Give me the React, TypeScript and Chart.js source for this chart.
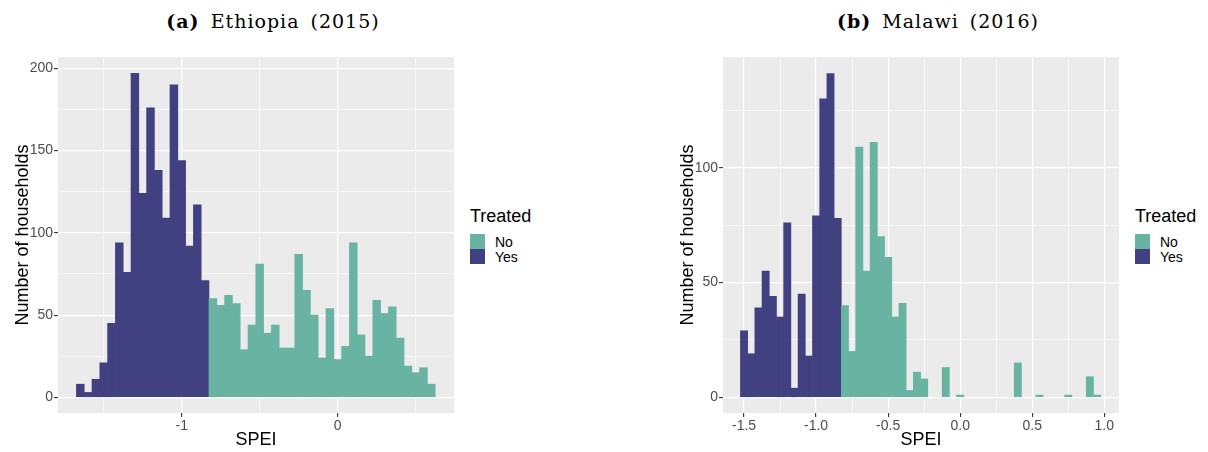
import React, { useEffect, useRef } from "react";
import Chart from "chart.js/auto";

// Histogram bins are 0.05 SPEI wide; treated (Yes) bins come first, then untreated (No)
const BIN_WIDTH = 0.05;

// (a) Ethiopia (2015)
const ETH_BIN_START = -1.675;
const ETH_YES = [8, 3, 11, 21, 45, 94, 76, 197, 124, 176, 138, 109, 190, 144, 92, 117, 71];
const ETH_NO = [
  60, 56, 62, 57, 29, 44, 81, 39, 44, 30, 30, 87, 65, 50, 24, 54, 23, 31, 94, 38,
  25, 59, 51, 55, 36, 19, 15, 18, 8,
];
const ETH_X_TICKS = [-1.5, -1, -0.5, 0, 0.5];
const ETH_X_LABELS = ["", "-1", "", "0", ""];
const ETH_Y_TICKS = [0, 25, 50, 75, 100, 125, 150, 175, 200];
const ETH_Y_LABELS = ["0", "", "50", "", "100", "", "150", "", "200"];

// (b) Malawi (2016)
const MWI_BIN_START = -1.525;
const MWI_YES = [29, 19, 39, 55, 44, 35, 76, 4, 45, 18, 79, 130, 141, 78];
const MWI_NO = [
  40, 20, 109, 55, 111, 70, 61, 35, 41, 3, 11, 8, 0, 0, 13, 0, 1, 0, 0, 0,
  0, 0, 0, 0, 15, 0, 0, 1, 0, 0, 0, 1, 0, 0, 9, 1,
];
const MWI_X_TICKS = [-1.5, -1.25, -1, -0.75, -0.5, -0.25, 0, 0.25, 0.5, 0.75, 1];
const MWI_X_LABELS = ["-1.5", "", "-1.0", "", "-0.5", "", "0.0", "", "0.5", "", "1.0"];
const MWI_Y_TICKS = [0, 25, 50, 75, 100, 125];
const MWI_Y_LABELS = ["0", "", "50", "", "100", ""];

const YES_COLOR = "#414080";
const NO_COLOR = "#69b3a2";
const PANEL_BG = "#EBEBEB";
const SANS = "'Liberation Sans', Arial, sans-serif";

const panelBackground = {
  id: "panelBackground",
  beforeDraw(chart: Chart) {
    const { ctx, chartArea } = chart;
    ctx.save();
    ctx.fillStyle = PANEL_BG;
    ctx.fillRect(chartArea.left, chartArea.top, chartArea.right - chartArea.left, chartArea.bottom - chartArea.top);
    ctx.restore();
  },
};

type HistProps = {
  binStart: number;
  yes: number[];
  no: number[];
  xRange: [number, number];
  yRange: [number, number];
  xTicks: number[];
  xLabels: string[];
  yTicks: number[];
  yLabels: string[];
  left: number;
};

const Histogram: React.FC<HistProps> = ({
  binStart, yes, no, xRange, yRange, xTicks, xLabels, yTicks, yLabels, left,
}) => {
  const canvasRef = useRef<HTMLCanvasElement | null>(null);

  useEffect(() => {
    if (!canvasRef.current) return;

    const center = (i: number) => binStart + (i + 0.5) * BIN_WIDTH;
    const yesData = yes.map((y, i) => ({ x: center(i), y }));
    const noData = no.map((y, i) => ({ x: center(yes.length + i), y }));

    const isMajor = (labels: string[], idx: number) => labels[idx] !== "";

    const chart = new Chart(canvasRef.current, {
      type: "bar",
      data: {
        datasets: [
          { label: "No", data: noData, backgroundColor: NO_COLOR },
          { label: "Yes", data: yesData, backgroundColor: YES_COLOR },
        ].map((d) => ({
          ...d,
          grouped: false,
          barPercentage: 1,
          categoryPercentage: 1,
          borderWidth: 0,
          inflateAmount: (ctx: any) => (ctx.raw && ctx.raw.y === 0 ? 0 : 0.33),
        })),
      },
      options: {
        animation: false,
        responsive: false,
        devicePixelRatio: 1,
        layout: { padding: { top: 57, right: 6, left: 0, bottom: 0 } },
        plugins: { legend: { display: false }, tooltip: { enabled: false } },
        scales: {
          x: {
            type: "linear",
            min: xRange[0],
            max: xRange[1],
            offset: false,
            afterFit: (s: any) => { s.height = 39; },
            afterBuildTicks: (s: any) => { s.ticks = xTicks.map((v) => ({ value: v })); },
            grid: {
              offset: false,
              color: "#FFFFFF",
              lineWidth: (c: any) => (isMajor(xLabels, c.index) ? 1.2 : 0.6),
              tickColor: (c: any) => (isMajor(xLabels, c.index) ? "#333333" : "rgba(0,0,0,0)"),
              tickLength: 4,
              tickWidth: 1.1,
            },
            border: { display: false },
            ticks: {
              autoSkip: false,
              maxRotation: 0,
              padding: 1,
              color: "#4D4D4D",
              font: { family: SANS, size: 14 },
              callback: (_v: any, i: number) => xLabels[i],
            },
            title: {
              display: true,
              text: "SPEI",
              color: "#000000",
              font: { family: SANS, size: 18 },
              padding: { top: 0, bottom: 1 },
            },
          },
          y: {
            min: yRange[0],
            max: yRange[1],
            afterFit: (s: any) => { s.width = 58; },
            afterBuildTicks: (s: any) => { s.ticks = yTicks.map((v) => ({ value: v })); },
            grid: {
              color: "#FFFFFF",
              lineWidth: (c: any) => (isMajor(yLabels, c.index) ? 1.2 : 0.6),
              tickColor: (c: any) => (isMajor(yLabels, c.index) ? "#333333" : "rgba(0,0,0,0)"),
              tickLength: 4,
              tickWidth: 1.1,
            },
            border: { display: false },
            ticks: {
              autoSkip: false,
              padding: 1,
              color: "#4D4D4D",
              font: { family: SANS, size: 14 },
              callback: (_v: any, i: number) => yLabels[i],
            },
            title: {
              display: true,
              text: "Number of households",
              color: "#000000",
              font: { family: SANS, size: 18 },
              padding: { top: 12, bottom: 0 },
            },
          },
        },
      },
      plugins: [panelBackground],
    });

    return () => {
      chart.destroy();
    };
  }, [binStart, yes, no, xRange, yRange, xTicks, xLabels, yTicks, yLabels]);

  return (
    <canvas
      ref={canvasRef}
      width={460}
      height={452}
      style={{ position: "absolute", left, top: 0, width: 460, height: 452 }}
    />
  );
};

const Legend: React.FC<{ left: number }> = ({ left }) => (
  <>
    <div style={{ position: "absolute", left, top: 206.5, fontFamily: SANS, fontSize: 18, lineHeight: "18px", color: "#000" }}>
      Treated
    </div>
    <div style={{ position: "absolute", left, top: 233.5, width: 14.5, height: 15, background: NO_COLOR }} />
    <div style={{ position: "absolute", left, top: 248.5, width: 14.5, height: 15.5, background: YES_COLOR }} />
    <div style={{ position: "absolute", left: left + 25, top: 235, fontFamily: SANS, fontSize: 14, lineHeight: "14px", color: "#000" }}>
      No
    </div>
    <div style={{ position: "absolute", left: left + 25, top: 250, fontFamily: SANS, fontSize: 14, lineHeight: "14px", color: "#000" }}>
      Yes
    </div>
  </>
);

const Title: React.FC<{ left: number; tag: string; text: string }> = ({ left, tag, text }) => (
  <div
    style={{
      position: "absolute",
      left,
      top: 12,
      width: 546,
      textAlign: "center",
      fontFamily: "'DejaVu Serif', serif",
      fontSize: 19,
      lineHeight: "19px",
      letterSpacing: 1,
      wordSpacing: 4,
      color: "#000",
      whiteSpace: "nowrap",
    }}
  >
    <b>{tag}</b> {text}
  </div>
);

export default function App() {
  return (
    <div style={{ position: "absolute", left: 0, top: 0, width: 1208, height: 452, background: "#fff", overflow: "hidden" }}>
      <Title left={0} tag="(a)" text="Ethiopia (2015)" />
      <Title left={665} tag="(b)" text="Malawi (2016)" />
      <Histogram
        binStart={ETH_BIN_START}
        yes={ETH_YES}
        no={ETH_NO}
        xRange={[-1.793, 0.7455]}
        yRange={[-9.5, 206.9]}
        xTicks={ETH_X_TICKS}
        xLabels={ETH_X_LABELS}
        yTicks={ETH_Y_TICKS}
        yLabels={ETH_Y_LABELS}
        left={0}
      />
      <Histogram
        binStart={MWI_BIN_START}
        yes={MWI_YES}
        no={MWI_NO}
        xRange={[-1.646, 1.102]}
        yRange={[-6.8, 148.2]}
        xTicks={MWI_X_TICKS}
        xLabels={MWI_X_LABELS}
        yTicks={MWI_Y_TICKS}
        yLabels={MWI_Y_LABELS}
        left={665}
      />
      <Legend left={470} />
      <Legend left={1135} />
    </div>
  );
}
